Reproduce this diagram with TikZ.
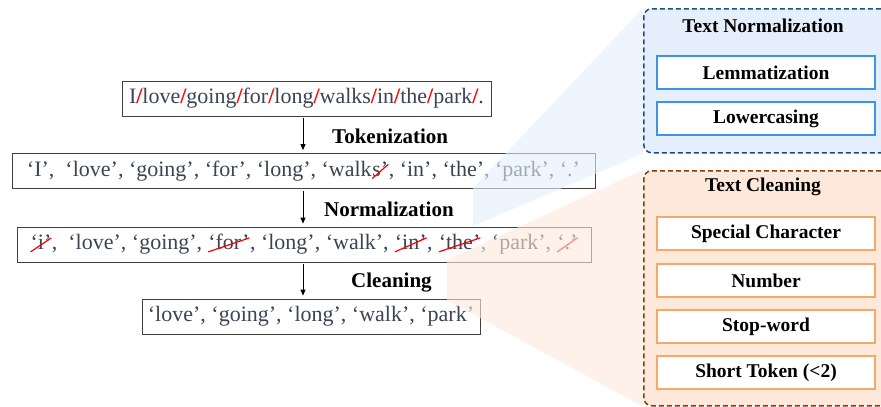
\documentclass[tikz,border=0pt]{standalone}
\usepackage{fontspec}
\setmainfont{Liberation Serif}
\usetikzlibrary{arrows.meta,calc}

\definecolor{ink}{HTML}{3B4453}
\definecolor{framegray}{HTML}{404040}
\definecolor{nfill}{HTML}{E4EFFB}
\definecolor{nedge}{HTML}{1F4E79}
\definecolor{nbox}{HTML}{3D94E6}
\definecolor{cfill}{HTML}{FDE8DA}
\definecolor{cedge}{HTML}{843C0C}
\definecolor{cbox}{HTML}{F6A868}
\definecolor{cut}{HTML}{FF0000}

\pgfdeclarelayer{front}
\pgfsetlayers{main,front}

% red token separator
\newcommand\tsep{\textcolor{cut}{\bfseries /}}
% red strike-through drawn diagonally over a token
\newcommand\strk[1]{\tikz[baseline=(w.base)]{\node[draw=none,fill=none,inner sep=0pt,outer sep=0pt,
    minimum width=0pt,minimum height=0pt,anchor=base] (w) {#1};
  \draw[cut,line width=1.2pt,solid] ([yshift=-2pt]w.base west) -- ([yshift=12pt]w.base east);}}

\begin{document}
\begin{tikzpicture}[x=1pt,y=-1pt,
  rowbox/.style={draw=framegray,line width=0.8pt,text=ink,inner sep=0pt,
    minimum height=35pt,font=\fontsize{22}{26}\selectfont},
  lbl/.style={inner sep=0pt,anchor=west,font=\fontsize{21}{24}\selectfont\bfseries},
  flow/.style={line width=0.8pt,-{Triangle[length=6pt,width=5pt]},shorten <=2pt,shorten >=3pt},
  panel/.style={rounded corners=8pt,line width=1.5pt,dash pattern=on 5pt off 3pt,
    anchor=north west,minimum width=245pt,inner sep=0pt},
  ptitle/.style={inner sep=0pt,font=\fontsize{19.5}{22}\selectfont\bfseries},
  substep/.style={fill=white,line width=2pt,minimum width=218pt,minimum height=33pt,
    inner sep=0pt,font=\fontsize{19.5}{22}\selectfont\bfseries},
  wedge/.style={fill opacity=0.6}]

\useasboundingbox (0,0) rectangle (881,407);
\clip (0,0) rectangle (881,407);

% ---- pipeline rows ----
\node[rowbox,minimum width=369pt] (r1) at (306.5,98.5)
  {I\tsep love\tsep going\tsep for\tsep long\tsep walks\tsep in\tsep the\tsep park\tsep .};
\node[rowbox,minimum width=583pt] (r2) at (303.5,171)
  {‘I’,\ \ ‘love’, ‘going’, ‘for’, ‘long’, ‘walk\strk{s’}, ‘in’, ‘the’, ‘park’, ‘.’};
\node[rowbox,minimum width=574pt] (r3) at (304,244.5)
  {\strk{‘i’},\ \ ‘love’, ‘going’, \strk{‘for’}, ‘long’, ‘walk’, \strk{‘in’}, \strk{‘the’}, ‘park’, \strk{‘.’}};
\node[rowbox,minimum width=338pt] (r4) at (311,316.5)
  {‘love’, ‘going’, ‘long’, ‘walk’, ‘park’};

% ---- arrows and step labels ----
\coordinate (ax) at (303,0);
\draw[flow] (ax |- r1.south) -- (ax |- r2.north);
\draw[flow] (ax |- r2.south) -- (ax |- r3.north);
\draw[flow] (ax |- r3.south) -- (ax |- r4.north);

\node[lbl] (ltok) at (332,136) {Tokenization};
\node[lbl] (lnorm) at (324,209) {Normalization};
\node[lbl] (lclean) at (351,283) {Cleaning};

% ---- detail panels ----
\begin{pgfonlayer}{front}
\node[panel,draw=nedge,fill=nfill,minimum height=144pt] (np) at (643,8) {};
\node[ptitle] (npt) at (763,26) {Text Normalization};
\node[substep,draw=nbox] (lem) at (766,72.5) {Lemmatization};
\node[substep,draw=nbox] (low) at (766,118.5) {Lowercasing};

\node[panel,draw=cedge,fill=cfill,minimum height=235pt] (cp) at (643,170) {};
\node[ptitle] (cpt) at (763,187) {Text Cleaning};
\node[substep,draw=cbox] (spc) at (766,233.5) {Special Character};
\node[substep,draw=cbox] (num) at (766,280.5) {Number};
\node[substep,draw=cbox] (stw) at (766,326.5) {Stop-word};
\node[substep,draw=cbox] (sht) at (766,372.5) {Short Token (<2)};
\end{pgfonlayer}

% ---- zoom wedges from the steps to their panels ----
\coordinate (nw1) at (473,188);
\coordinate (nw2) at (473,226);
\fill[nfill,wedge] (nw1) -- (np.north west) -- (np.south west) -- (nw2) -- cycle;
\coordinate (cw1) at (447,260);
\coordinate (cw2) at (447,300);
\fill[cfill,wedge] (cw1) -- (cp.north west) -- (cp.south west) -- (cw2) -- cycle;
\end{tikzpicture}
\end{document}
